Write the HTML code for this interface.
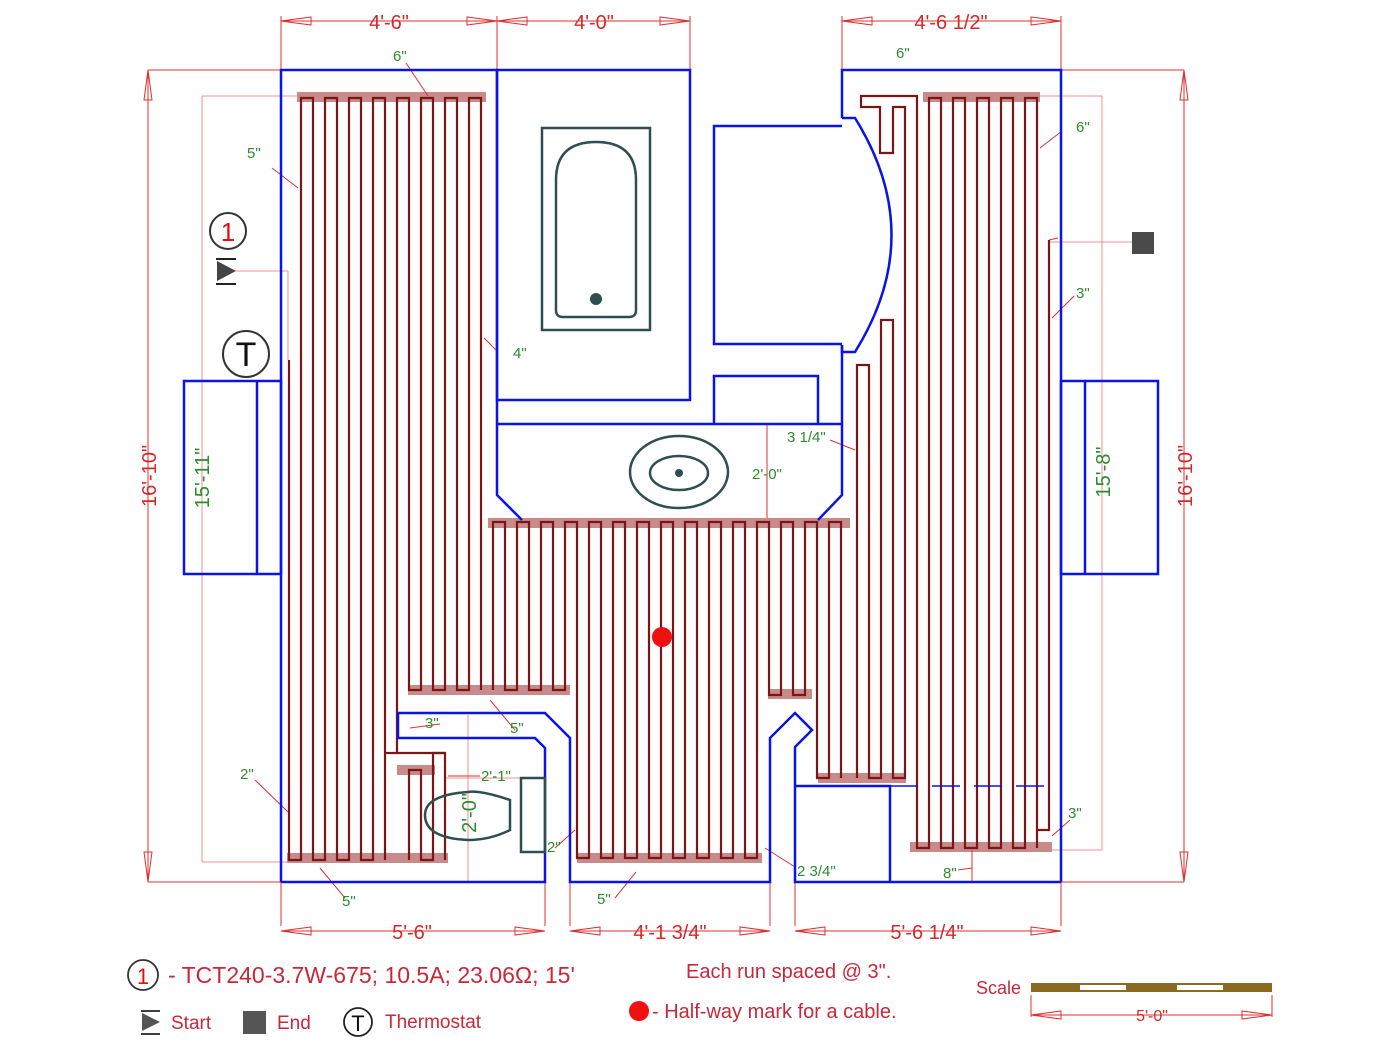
<!DOCTYPE html>
<html><head><meta charset="utf-8"><style>
html,body{margin:0;padding:0;background:#fff;}
svg{display:block;font-family:"Liberation Sans",sans-serif;}
.r{fill:#d62828;font-size:20px;}
.g{fill:#2e8b2e;font-size:15px;}
</style></head><body>
<svg id="s" width="1400" height="1049" viewBox="0 0 1400 1049" xmlns="http://www.w3.org/2000/svg">
<g id="shade" fill="#c98a8a"></g>
<g id="dims" stroke="#e03030" stroke-width="1" fill="none"></g>
<g id="cable" stroke="#7a1616" stroke-width="2.2" fill="none"></g>
<g id="walls" stroke="#0a14e6" stroke-width="2.5" fill="none">
<polyline points="281,882 281,70 497,70 497,495 522,520"/>
<rect x="497" y="70" width="193" height="330"/>
<line x1="497" y1="424" x2="842" y2="424"/>
<polyline points="842,345 842,495 818,520"/>
<polyline points="842,118 842,70 1061,70 1061,882"/>
<path d="M842,118 L855,118 Q928,235 855,352 L842,352 L842,345"/>
<polyline points="842,126 714,126 714,344 842,344"/>
<polyline points="714,424 714,376 818,376 818,424"/>
<rect x="184" y="381" width="97" height="193"/>
<line x1="257" y1="381" x2="257" y2="574"/>
<rect x="1061" y="381" width="97" height="193"/>
<line x1="1085" y1="381" x2="1085" y2="574"/>
<polyline points="281,882 545,882 545,748 535,738 398,738 398,713 545,713 570,738 570,882 770,882 770,738 795,713 812,730 795,747 795,882 1061,882"/>
<polyline points="795,786 890,786 890,882"/>
<line x1="890" y1="786" x2="1055" y2="786" stroke-width="1.5" stroke-dasharray="28,14"/>
</g>
<g stroke="#2f4f4f" stroke-width="2.5" fill="none">
<rect x="542" y="128" width="108" height="202"/>
<path d="M556,180 Q556,142 596,142 Q636,142 636,180 L636,310 Q636,317 629,317 L563,317 Q556,317 556,310 Z"/>
<ellipse cx="679" cy="472" rx="49" ry="36"/>
<ellipse cx="679" cy="473" rx="29" ry="17"/>
<path d="M510,800 Q480,790 468,792 Q425,795 425,815 Q425,838 468,840 Q490,840 510,830 Z"/>
<rect x="521" y="778" width="24" height="74"/>
</g>
<circle cx="596" cy="299" r="6" fill="#2f4f4f"/>
<circle cx="679" cy="473" r="4" fill="#2f4f4f"/>
<circle cx="662" cy="637" r="10" fill="#f01010"/>
<circle cx="228" cy="231" r="18" fill="none" stroke="#333" stroke-width="2"/>
<text x="228" y="241" font-size="26" fill="#e01010" text-anchor="middle">1</text>
<line x1="216" y1="259" x2="236" y2="259" stroke="#222" stroke-width="2"/>
<line x1="216" y1="284" x2="236" y2="284" stroke="#222" stroke-width="2"/>
<polygon points="217,261 236,271 217,281" fill="#444"/>
<circle cx="246" cy="354" r="23" fill="none" stroke="#333" stroke-width="2"/>
<text x="246" y="366" font-size="34" fill="#111" text-anchor="middle">T</text>
<rect x="1132" y="232" width="22" height="22" fill="#4a4a4a"/>
<g class="r" text-anchor="middle">
<text x="389" y="29">4'-6"</text>
<text x="594" y="29">4'-0"</text>
<text x="951" y="29">4'-6 1/2"</text>
<text x="412" y="939">5'-6"</text>
<text x="670" y="939">4'-1 3/4"</text>
<text x="927" y="939">5'-6 1/4"</text>
<text transform="translate(156,476) rotate(-90)">16'-10"</text>
<text transform="translate(1192,476) rotate(-90)">16'-10"</text>
</g>
<g fill="#2e8b2e" font-size="20" text-anchor="middle">
<text transform="translate(209,478) rotate(-90)">15'-11"</text>
<text transform="translate(1110,472) rotate(-90)">15'-8"</text>
<text transform="translate(476,813) rotate(-90)">2'-0"</text>
</g>
<g class="g">
<text x="393" y="61">6"</text><text x="896" y="58">6"</text>
<text x="1076" y="132">6"</text><text x="247" y="158">5"</text>
<text x="513" y="358">4"</text><text x="1076" y="298">3"</text>
<text x="787" y="442">3 1/4"</text><text x="752" y="479">2'-0"</text>
<text x="425" y="728">3"</text><text x="510" y="733">5"</text>
<text x="481" y="781">2'-1"</text><text x="240" y="779">2"</text>
<text x="547" y="852">2"</text><text x="797" y="876">2 3/4"</text>
<text x="1068" y="818">3"</text><text x="943" y="878">8"</text>
<text x="342" y="906">5"</text><text x="597" y="904">5"</text>
</g>
<circle cx="143" cy="975" r="15" fill="none" stroke="#333" stroke-width="1.8"/>
<text x="143" y="984" font-size="22" fill="#e01010" text-anchor="middle">1</text>
<text x="168" y="983" font-size="23" fill="#c8283a">- TCT240-3.7W-675; 10.5A; 23.06Ω; 15'</text>
<line x1="141" y1="1011" x2="160" y2="1011" stroke="#222" stroke-width="1.8"/>
<line x1="141" y1="1034" x2="160" y2="1034" stroke="#222" stroke-width="1.8"/>
<polygon points="142,1013 160,1022 142,1031" fill="#555"/>
<text x="171" y="1029" font-size="19" fill="#c8283a">Start</text>
<rect x="243" y="1011" width="23" height="23" fill="#555"/>
<text x="277" y="1029" font-size="19" fill="#c8283a">End</text>
<circle cx="358" cy="1022" r="14" fill="none" stroke="#222" stroke-width="1.8"/>
<text x="358" y="1031" font-size="22" fill="#111" text-anchor="middle">T</text>
<text x="385" y="1028" font-size="19" fill="#c8283a">Thermostat</text>
<text x="686" y="978" font-size="20" fill="#c8283a">Each run spaced @ 3".</text>
<circle cx="639" cy="1011" r="10" fill="#f01010"/>
<text x="652" y="1018" font-size="20" fill="#c8283a">- Half-way mark for a cable.</text>
<text x="976" y="994" font-size="18" fill="#c8283a">Scale</text>
<rect x="1031" y="983" width="241" height="9" fill="#8b6a22"/>
<rect x="1080" y="985" width="46" height="5" fill="#fff"/>
<rect x="1177" y="985" width="46" height="5" fill="#fff"/>
<text x="1152" y="1021" font-size="16" fill="#d62828" text-anchor="middle">5'-0"</text>
</svg>
<script>
var NS="http://www.w3.org/2000/svg";
function el(p,t,a){var e=document.createElementNS(NS,t);for(var k in a)e.setAttribute(k,a[k]);document.getElementById(p).appendChild(e);return e;}
function L(p,x1,y1,x2,y2,ex){var a={x1:x1,y1:y1,x2:x2,y2:y2};for(var k in ex)a[k]=ex[k];return el(p,'line',a);}
[[297,92,189],[923,92,117],[488,518,362],[287,853,161],[408,685,162],[397,765,38],[577,853,185],[768,689,44],[818,773,88],[910,842,142]].forEach(function(b){el('shade','rect',{x:b[0],y:b[1],width:b[2],height:10});});
function serp(xs,tops,bots,startTop){
 var d='';
 for(var i=0;i<xs.length;i++){
  var x=xs[i];
  var down=((i%2==0)==startTop);
  if(i==0)d+='M'+x+','+(down?tops[i]:bots[i]);
  d+=' L'+x+','+(down?bots[i]:tops[i]);
  if(i<xs.length-1){var nx=xs[i+1];
   if(down){d+=' L'+x+','+bots[i+1]+' L'+nx+','+bots[i+1];} else {d+=' L'+x+','+tops[i+1]+' L'+nx+','+tops[i+1];}
  }
 }
 el('cable','path',{d:d});
}
function range(a,b){var r=[];for(var x=a;x<=b;x+=12)r.push(x);return r;}
var xs=range(289,481),t=[],b=[];
xs.forEach(function(x){t.push(x==289?360:98);b.push(x<=385?860:(x==397?753:690));});
serp(xs,t,b,true);
serp([409,421,433,445],[770,770,770,753],[860,860,860,860],false);
L('cable',397,753,445,753);
xs=range(493,841);t=[];b=[];
xs.forEach(function(x){t.push(522);b.push(x<=565?690:(x<=757?858:(x<=805?695:778)));});
serp(xs,t,b,false);
el('cable','path',{d:'M857,778 L857,365 L869,365 L869,778 L881,778 L881,320 L893,320 L893,778 L905,778 L905,107 L893,107 L893,153 L880,153 L880,107 L861,107 L861,96 L917,96 L917,98'});
xs=range(917,1049);t=[];b=[];
xs.forEach(function(x){t.push(x==1049?240:98);b.push(x==1049?830:848);});
serp(xs,t,b,true);
function arrowH(x,y,dir){var l=30*dir;el('dims','polygon',{points:x+','+y+' '+(x+l)+','+(y-4)+' '+(x+l)+','+(y+4)});}
function arrowV(x,y,dir){var l=30*dir;el('dims','polygon',{points:x+','+y+' '+(x-4)+','+(y+l)+' '+(x+4)+','+(y+l)});}
function dimH(x1,x2,y,ext1,ext2){L('dims',x1,y,x2,y);arrowH(x1,y,1);arrowH(x2,y,-1);L('dims',x1,y-5,x1,ext1);L('dims',x2,y-5,x2,ext2);}
dimH(281,497,21,70,70);dimH(497,690,21,70,70);dimH(842,1061,21,70,70);
dimH(281,545,931,882,882);dimH(570,770,931,882,882);dimH(795,1061,931,882,882);
L('dims',1031,995,1031,1017);L('dims',1272,995,1272,1017);L('dims',1031,1015,1272,1015);arrowH(1031,1015,1);arrowH(1272,1015,-1);
function dimV(x,y1,y2){L('dims',x,y1,x,y2);arrowV(x,y1,1);arrowV(x,y2,-1);}
dimV(148,70,882);L('dims',148,70,281,70);L('dims',148,882,281,882);
dimV(1184,70,882);L('dims',1061,70,1184,70);L('dims',1061,882,1184,882);
var lg=el('dims','g',{stroke:'#f09090'});
function LL(a,b,c,d){var e=document.createElementNS(NS,'line');e.setAttribute('x1',a);e.setAttribute('y1',b);e.setAttribute('x2',c);e.setAttribute('y2',d);lg.appendChild(e);}
LL(202,96,202,862);LL(202,96,297,96);LL(202,862,287,862);
LL(1102,96,1102,850);LL(1040,96,1102,96);LL(1052,850,1102,850);
LL(1050,242,1132,242);LL(236,271,288,271);LL(288,271,288,360);
LL(468,715,468,882);LL(445,778,545,778);
[[406,63,428,96],[272,168,298,188],[496,350,484,338],[1062,131,1040,148],[1074,296,1052,318],[830,440,855,450],[767,424,767,518],[440,724,410,728],[515,730,490,700],[480,776,448,776],[255,780,288,812],[555,848,575,830],[795,867,765,848],[1070,820,1052,836],[958,870,972,868],[972,850,972,882],[345,898,320,868],[615,898,636,872],[1058,238,1049,240]].forEach(function(a){L('dims',a[0],a[1],a[2],a[3]);});
</script>
</body></html>
